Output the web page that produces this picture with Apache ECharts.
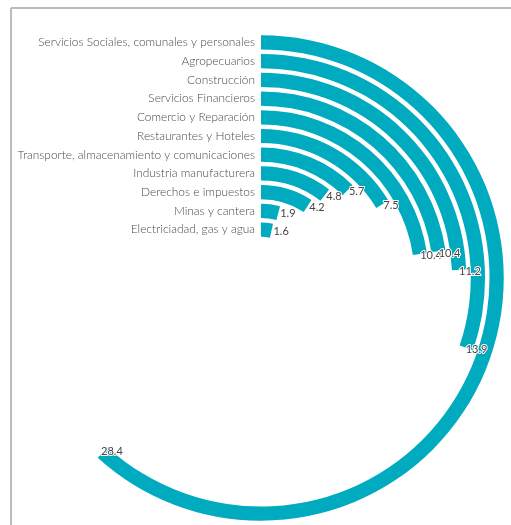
<!DOCTYPE html>
<html><head><meta charset="utf-8">
<script src="https://cdn.jsdelivr.net/npm/echarts@6/dist/echarts.min.js"></script>
<style>html,body{margin:0;padding:0;background:#fff}#c{width:511px;height:525px}</style>
</head><body><div id="c"></div>
<script>
const categories = ['Electriciadad, gas y agua','Minas y cantera','Derechos e impuestos','Industria manufacturera','Transporte, almacenamiento y comunicaciones','Restaurantes y Hoteles','Comercio y Reparación','Servicios Financieros','Construcción','Agropecuarios','Servicios Sociales, comunales y personales'];
const values = [1.6,1.9,4.2,4.8,5.7,7.5,10.4,10.4,11.2,13.9,28.4];

const chart = echarts.init(document.getElementById('c'));
chart.setOption({
  animation: false,
  backgroundColor: '#fff',
  graphic: [
    {type:'line', shape:{x1:11,y1:8,x2:511,y2:8}, style:{stroke:'#bbbbbb', lineWidth:2}},
    {type:'line', shape:{x1:11,y1:8,x2:11,y2:525}, style:{stroke:'#bbbbbb', lineWidth:2}}
  ],
  polar: {center:[261,278], radius:[39,245]},
  angleAxis: {type:'value', min:0, max:46, startAngle:90, clockwise:true, show:false},
  radiusAxis: {
    type:'category', data: categories,
    axisLine:{show:false}, axisTick:{show:false}, splitLine:{show:false},
    axisLabel:{interval:0, hideOverlap:false, fontFamily:'Lato', fontWeight:300, fontSize:11.9, color:'#4a4a4a', margin:6}
  },
  series: [{
    type:'bar', coordinateSystem:'polar', data: values,
    barCategoryGap:'24%',
    itemStyle:{color:'#00aabf'},
    label:{show:true, position:'end', rotate:0, distance:2, fontFamily:'Lato', fontSize:11, color:'#444',
      textBorderColor:'#fff', textBorderWidth:2}
  }]
});
</script></body></html>
